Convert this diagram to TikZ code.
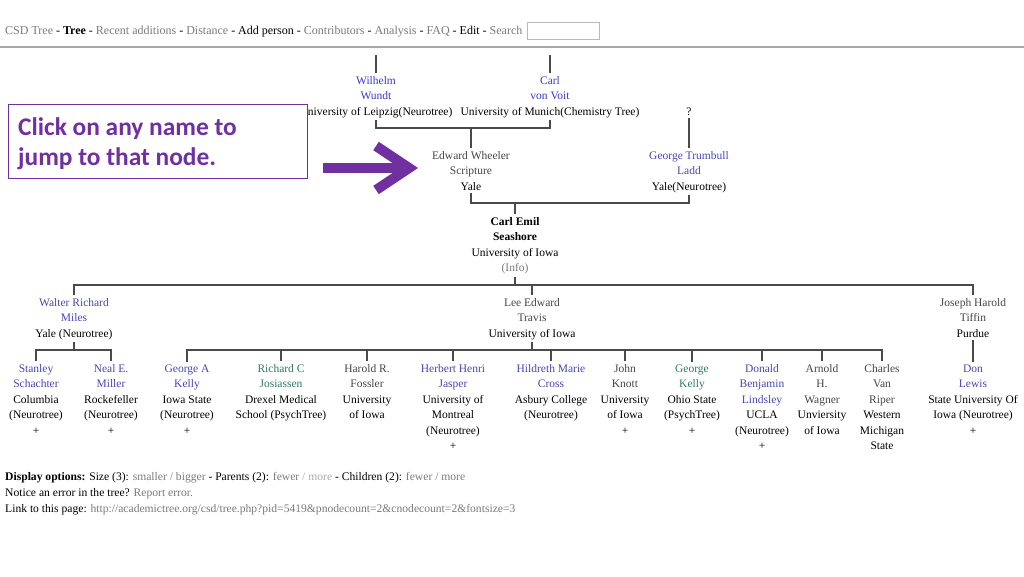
\documentclass[tikz,border=0pt]{standalone}
\usepackage{fontspec}
\setmainfont{Liberation Serif}
\newfontfamily\calfont{Carlito}
\definecolor{lnk}{HTML}{4646B0}
\definecolor{lnkb}{HTML}{3838CC}
\definecolor{vis}{HTML}{454545}
\definecolor{grn}{HTML}{2F7866}
\definecolor{edgec}{HTML}{4A4A4A}
\definecolor{navgray}{HTML}{7A7A7A}
\definecolor{ltgray}{HTML}{AAAAAA}
\definecolor{purp}{HTML}{7030A0}
\newcommand\nmA[1]{{\color{lnk}#1}}
\newcommand\nmB[1]{{\color{lnkb}#1}}
\newcommand\nmV[1]{{\color{vis}#1}}
\newcommand\nmG[1]{{\color{grn}#1}}
\newcommand\gr[1]{{\color{navgray}#1}}
\begin{document}
\begin{tikzpicture}[x=1pt,y=-1pt,
  person/.style={align=center, anchor=base, inner sep=2.5pt, font=\fontsize{11.5}{15.5}\selectfont},
  edge/.style={draw=edgec, line width=1.2pt},
  txt/.style={anchor=base west, inner sep=0pt, font=\fontsize{11.6}{15.5}\selectfont}]
\useasboundingbox (0,0) rectangle (1024,576);
% nav bar
\node[txt, font=\fontsize{12}{15}\selectfont] (nav) at (5,34) {\gr{CSD Tree} - \textbf{Tree} - \gr{Recent additions} - \gr{Distance} - Add person - \gr{Contributors} - \gr{Analysis} - \gr{FAQ} - Edit - \gr{Search}};
\node[draw=gray!55, line width=0.8pt, minimum width=72pt, minimum height=17pt, inner sep=0pt, anchor=north west] (search) at (527,22) {};
\draw[gray!70, line width=1.2pt] (0,47) -- (1024,47);
% tree top (anchor = baseline of last line)
\node[person] (wundt) at (376,115) {\nmB{Wilhelm}\\\nmB{Wundt}\\University of Leipzig(Neurotree)};
\node[person] (voit) at (550,115) {\nmB{Carl}\\\nmB{von Voit}\\University of Munich(Chemistry Tree)};
\node[person] (q) at (689,115) {?};
\node[person] (scripture) at (471,190) {\nmV{Edward Wheeler}\\\nmV{Scripture}\\Yale};
\node[person] (ladd) at (689,190) {\nmA{George Trumbull}\\\nmA{Ladd}\\Yale(Neurotree)};
\node[person] (seashore) at (515,271.5) {\textbf{Carl Emil}\\\textbf{Seashore}\\University of Iowa\\\gr{(Info)}};
% row 2
\node[person] (miles) at (74,337) {\nmA{Walter Richard}\\\nmA{Miles}\\Yale (Neurotree)};
\node[person] (travis) at (532,337) {\nmV{Lee Edward}\\\nmV{Travis}\\University of Iowa};
\node[person] (tiffin) at (973,337) {\nmV{Joseph Harold}\\\nmV{Tiffin}\\Purdue};
% row 3
\node[person] (schachter) at (36,434) {\nmA{Stanley}\\\nmA{Schachter}\\Columbia\\(Neurotree)\\+};
\node[person] (miller) at (111,434) {\nmA{Neal E.}\\\nmA{Miller}\\Rockefeller\\(Neurotree)\\+};
\node[person] (gkellya) at (187,434) {\nmA{George A}\\\nmA{Kelly}\\Iowa State\\(Neurotree)\\+};
\node[person] (josiassen) at (281,418.5) {\nmG{Richard C}\\\nmG{Josiassen}\\Drexel Medical\\School (PsychTree)};
\node[person] (fossler) at (367,418.5) {\nmV{Harold R.}\\\nmV{Fossler}\\University\\of Iowa};
\node[person] (jasper) at (453,449.5) {\nmA{Herbert Henri}\\\nmA{Jasper}\\University of\\Montreal\\(Neurotree)\\+};
\node[person] (cross) at (551,418.5) {\nmA{Hildreth Marie}\\\nmA{Cross}\\Asbury College\\(Neurotree)};
\node[person] (knott) at (625,434) {\nmV{John}\\\nmV{Knott}\\University\\of Iowa\\+};
\node[person] (gkelly) at (692,434) {\nmG{George}\\\nmG{Kelly}\\Ohio State\\(PsychTree)\\+};
\node[person] (lindsley) at (762,449.5) {\nmA{Donald}\\\nmA{Benjamin}\\\nmA{Lindsley}\\UCLA\\(Neurotree)\\+};
\node[person] (wagner) at (822,434) {\nmV{Arnold}\\\nmV{H.}\\\nmV{Wagner}\\Unviersity\\of Iowa};
\node[person] (riper) at (882,449.5) {\nmV{Charles}\\\nmV{Van}\\\nmV{Riper}\\Western\\Michigan\\State};
\node[person] (lewis) at (973,434) {\nmA{Don}\\\nmA{Lewis}\\State University Of\\Iowa (Neurotree)\\+};
% connectors
\coordinate (pw) at (376,55);
\coordinate (pv) at (550,55);
\draw[edge] (pw) -- (wundt.north);
\draw[edge] (pv) -- (voit.north);
\coordinate (j1) at (471,128);
\draw[edge] (wundt.south) |- (j1) -| (voit.south);
\draw[edge] (j1) -- (scripture.north);
\draw[edge] (q.south) -- (ladd.north);
\coordinate (j2) at (515,203);
\draw[edge] (scripture.south) |- (j2) -| (ladd.south);
\draw[edge] (j2) -- (seashore.north);
\coordinate (j3) at (515,285);
\draw[edge] (seashore.south) -- (j3);
\draw[edge] (miles.north) |- (j3) -| (tiffin.north);
\draw[edge] (travis.north |- j3) -- (travis.north);
\coordinate (j4) at (74,350);
\draw[edge] (miles.south) -- (j4);
\draw[edge] (schachter.north) |- (j4) -| (miller.north);
\coordinate (j5) at (532,350);
\draw[edge] (travis.south) -- (j5);
\draw[edge] (gkellya.north) |- (j5) -| (riper.north);
\foreach \c in {josiassen,fossler,jasper,cross,knott,gkelly,lindsley,wagner}
  \draw[edge] (\c.north |- j5) -- (\c.north);
\draw[edge] (tiffin.south) -- (lewis.north);
% callout
\node[draw=purp, fill=white, line width=1pt, minimum width=299pt, minimum height=74pt, inner sep=0pt, anchor=north west] (callout) at (8,104) {};
\node[anchor=base west, align=left, inner sep=0pt, text=purp, font=\calfont\bfseries\fontsize{25.4}{30}\selectfont] (calltext) at (18,165) {Click on any name to\\jump to that node.};
\coordinate (as) at (323,168);
\coordinate (ae) at (406,168);
\coordinate (atip) at (409,168);
\draw[purp, line width=10pt] (as) -- (ae);
\draw[purp, line width=10pt, line join=miter] (376,146) -- (atip) -- (376,190);
% footer
\node[txt] (opts) at (5,480) {\textbf{Display options:} Size (3): \gr{smaller / bigger} - Parents (2): \gr{fewer} {\color{ltgray}/ more} - Children (2): \gr{fewer / more}};
\node[txt] (notice) at (5,496) {Notice an error in the tree? \gr{Report error.}};
\node[txt] (link) at (5,512) {Link to this page: \gr{http://academictree.org/csd/tree.php?pid=5419\&pnodecount=2\&cnodecount=2\&fontsize=3}};
\end{tikzpicture}
\end{document}
